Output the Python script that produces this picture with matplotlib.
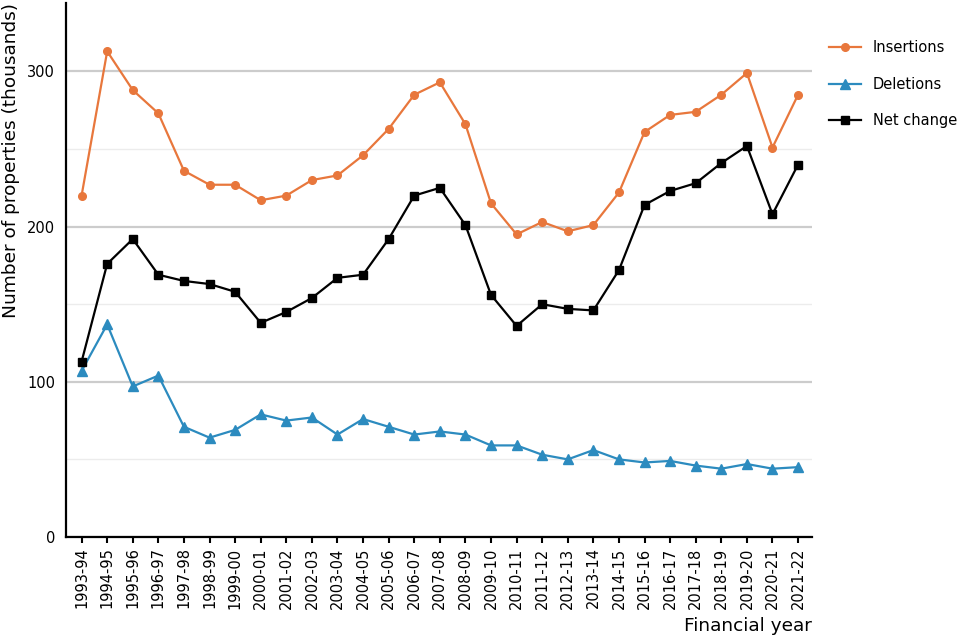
import matplotlib
matplotlib.use("Agg")
import matplotlib.pyplot as plt
from matplotlib.ticker import MultipleLocator

years = ["1993-94", "1994-95", "1995-96", "1996-97", "1997-98", "1998-99",
         "1999-00", "2000-01", "2001-02", "2002-03", "2003-04", "2004-05",
         "2005-06", "2006-07", "2007-08", "2008-09", "2009-10", "2010-11",
         "2011-12", "2012-13", "2013-14", "2014-15", "2015-16", "2016-17",
         "2017-18", "2018-19", "2019-20", "2020-21", "2021-22"]

insertions = [220, 313, 288, 273, 236, 227, 227, 217, 220, 230, 233, 246,
              263, 285, 293, 266, 215, 195, 203, 197, 201, 222, 261, 272,
              274, 285, 299, 251, 285]

deletions = [107, 137, 97, 104, 71, 64, 69, 79, 75, 77, 66, 76,
             71, 66, 68, 66, 59, 59, 53, 50, 56, 50, 48, 49,
             46, 44, 47, 44, 45]

net_change = [113, 176, 192, 169, 165, 163, 158, 138, 145, 154, 167, 169,
              192, 220, 225, 201, 156, 136, 150, 147, 146, 172, 214, 223,
              228, 241, 252, 208, 240]

fig = plt.figure(figsize=(9.6, 6.4), dpi=100)
ax = fig.add_axes([0.069, 0.161, 0.777, 0.834])

x = range(len(years))
ax.plot(x, insertions, color="#e8773c", marker="o", markersize=5.5, linewidth=1.6, label="Insertions")
ax.plot(x, deletions, color="#2c8bbf", marker="^", markersize=7, linewidth=1.6, label="Deletions")
ax.plot(x, net_change, color="black", marker="s", markersize=6, linewidth=1.6, label="Net change")

ax.set_xlim(-0.6, len(years) - 0.45)
ax.set_ylim(0, 344)
ax.yaxis.set_major_locator(MultipleLocator(100))
ax.yaxis.set_minor_locator(MultipleLocator(50))
ax.grid(axis="y", which="major", color="#cccccc", linewidth=1.6)
ax.grid(axis="y", which="minor", color="#ececec", linewidth=1.0)
ax.set_axisbelow(True)

ax.set_xticks(list(x))
ax.set_xticklabels(years, rotation=90, fontsize=10.5)
ax.tick_params(axis="y", which="both", length=0, labelsize=10.5, pad=8)
ax.tick_params(axis="x", length=4, width=1.5)

for s in ["top", "right"]:
    ax.spines[s].set_visible(False)
for s in ["left", "bottom"]:
    ax.spines[s].set_linewidth(1.6)

ax.set_ylabel("Number of properties (thousands)", fontsize=13.3, loc="top", labelpad=5)
ax.set_xlabel("Financial year", fontsize=13.3, loc="right", labelpad=6)

ax.legend(loc="upper left", bbox_to_anchor=(1.005, 0.955), frameon=False,
          fontsize=10.5, labelspacing=1.47, handlelength=2.2)

fig.savefig("out.png", dpi=100)
